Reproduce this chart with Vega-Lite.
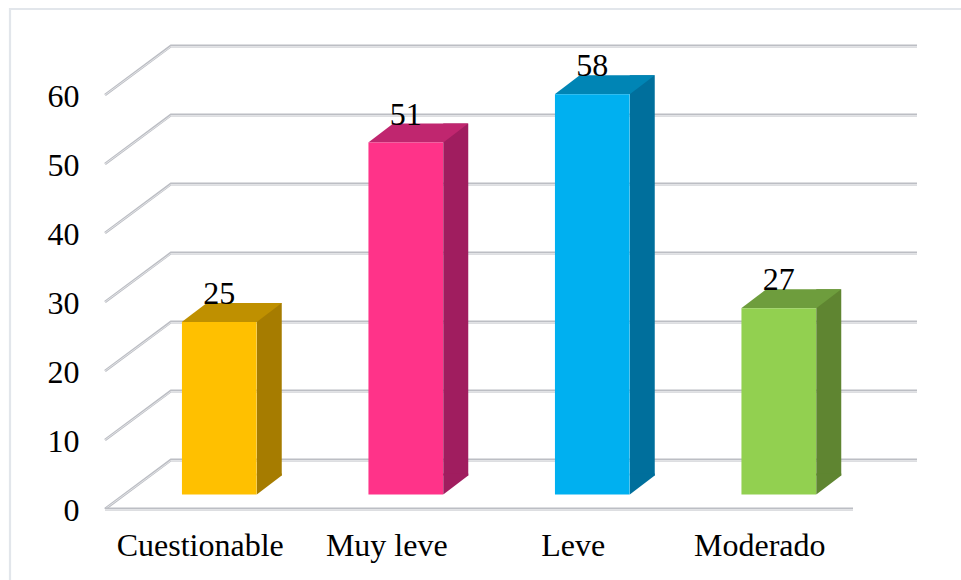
{
"$schema":"https://vega.github.io/schema/vega-lite/v6.json",
"width":746,"height":414,"autosize":"none",
"padding":{"left":126,"top":80.5,"right":89,"bottom":85.5},
"background":"white",
"config":{"view":{"stroke":null}},
"datasets":{
"ticks":[{"v":0},{"v":10},{"v":20},{"v":30},{"v":40},{"v":50},{"v":60}],
"bars":[{"cat":"Cuestionable","value":25},{"cat":"Muy leve","value":51},{"cat":"Leve","value":58},{"cat":"Moderado","value":27}]
},
"layer":[
{"data":{"name":"ticks"},"transform":[{"filter":"datum.v==0"}],
 "mark":{"type":"point","shape":"M-489 86 L-489 -485.5 L462 -485.5","filled":false,"size":4,"stroke":"#e2e6eb","strokeWidth":2.2,"opacity":1},
 "encoding":{"y":{"field":"v","type":"quantitative","scale":{"domain":[0,60]},
   "axis":{"values":[0,10,20,30,40,50,60],"title":null,"grid":false,"domain":false,"ticks":false,"labelOffset":16,"labelPadding":47,"labelFont":"Liberation Serif","labelFontSize":32,"labelColor":"#000000","labelBound":false,"labelFlush":false,"labelOverlap":false}}}},
{"data":{"name":"ticks"},
 "mark":{"type":"point","shape":"M-394 14.5 L-328 -34.5 L418 -34.5","filled":false,"size":4,"stroke":"#bcbec4","strokeWidth":2.8,"opacity":1},
 "encoding":{"y":{"field":"v","type":"quantitative"}}},
{"data":{"name":"ticks"},
 "mark":{"type":"point","shape":"M-394 14.5 L-328 -34 L418 -34","filled":false,"size":4,"stroke":"#e2e3e6","strokeWidth":1,"opacity":1},
 "encoding":{"y":{"field":"v","type":"quantitative"}}},
{"data":{"name":"ticks"},"transform":[{"filter":"datum.v==0"}],
 "mark":{"type":"point","shape":"M-394 14.5 L354 14.5","filled":false,"size":4,"stroke":"#bcbec4","strokeWidth":2.8,"opacity":1},
 "encoding":{"y":{"field":"v","type":"quantitative"}}},
{"data":{"name":"ticks"},"transform":[{"filter":"datum.v==0"}],
 "mark":{"type":"point","shape":"M-394 15 L354 15","filled":false,"size":4,"stroke":"#e2e3e6","strokeWidth":1,"opacity":1},
 "encoding":{"y":{"field":"v","type":"quantitative"}}},
{"data":{"name":"bars"},
 "mark":{"type":"bar","width":25,"xOffset":50,"yOffset":-19},
 "encoding":{
  "x":{"field":"cat","type":"nominal","sort":null,"scale":{"paddingInner":0.6,"paddingOuter":0.3},
   "axis":{"title":null,"domain":false,"ticks":false,"labelAngle":0,"labelOffset":-19,"labelPadding":61,"labelBaseline":"alphabetic","labelFont":"Liberation Serif","labelFontSize":32,"labelColor":"#000000","labelBound":false,"labelFlush":false,"labelOverlap":false}},
  "y":{"field":"value","type":"quantitative"},
  "color":{"field":"cat","type":"nominal","sort":null,"legend":null,"scale":{"range":["#a67c00","#a01d5f","#006f9c","#5f8531"]}}}},
{"data":{"name":"bars"},
 "mark":{"type":"point","shape":"M37.5 0 L62.5 -19 L62.5 -21 L37.5 -21 Z","filled":true,"size":4,"opacity":1},
 "encoding":{
  "x":{"field":"cat","type":"nominal","sort":null},
  "y":{"datum":0,"type":"quantitative"},
  "color":{"field":"cat","type":"nominal","sort":null,"legend":null,"scale":{"range":["#a67c00","#a01d5f","#006f9c","#5f8531"]}}}},
{"data":{"name":"bars"},
 "mark":{"type":"point","shape":"M-37.5 0 L-12.5 -19 L62.5 -19 L37.5 0 Z","filled":true,"size":4,"opacity":1},
 "encoding":{
  "x":{"field":"cat","type":"nominal","sort":null},
  "y":{"field":"value","type":"quantitative"},
  "color":{"field":"cat","type":"nominal","sort":null,"legend":null,"scale":{"range":["#bf9000","#c0266f","#0085b5","#6e9d3d"]}}}},
{"data":{"name":"bars"},
 "mark":{"type":"bar"},
 "encoding":{
  "x":{"field":"cat","type":"nominal","sort":null},
  "y":{"field":"value","type":"quantitative"},
  "color":{"field":"cat","type":"nominal","sort":null,"legend":null,"scale":{"range":["#ffc000","#ff3389","#00b0f0","#92d050"]}}}},
{"data":{"name":"bars"},
 "mark":{"type":"text","font":"Liberation Serif","fontSize":32,"color":"#000000","baseline":"alphabetic","dy":-18},
 "encoding":{
  "x":{"field":"cat","type":"nominal","sort":null},
  "y":{"field":"value","type":"quantitative"},
  "text":{"field":"value","type":"quantitative"}}}
],
"resolve":{"scale":{"color":"independent"}}
}
